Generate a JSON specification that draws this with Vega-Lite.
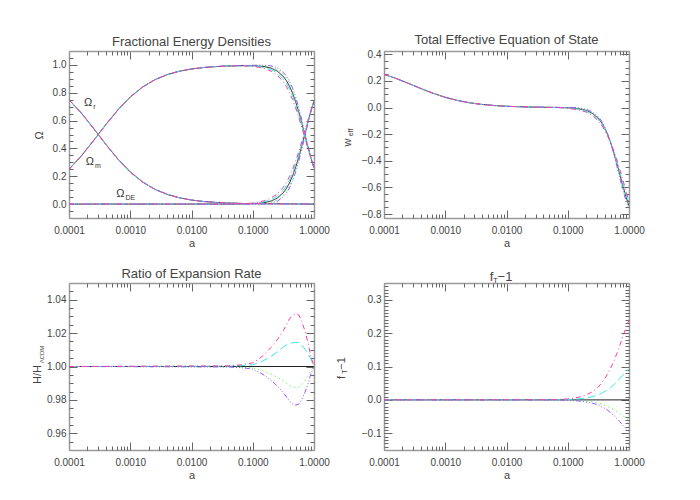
{
"$schema":"https://vega.github.io/schema/vega-lite/v6.json",
"padding":{"left":31,"top":34,"right":5,"bottom":5},
"background":"white",
"datasets":{
"om":[
{"m":"L","c":"r","a":0.0001,"v":0.75},{"m":"L","c":"r","a":0.00015849,"v":0.6543},{"m":"L","c":"r","a":0.00025119,"v":0.5443},{"m":"L","c":"r","a":0.00039811,"v":0.4297},{"m":"L","c":"r","a":0.00063096,"v":0.3222},{"m":"L","c":"r","a":0.001,"v":0.2308},{"m":"L","c":"r","a":0.0015849,"v":0.1592},{"m":"L","c":"r","a":0.0025119,"v":0.1067},{"m":"L","c":"r","a":0.0039811,"v":0.0701},{"m":"L","c":"r","a":0.0063096,"v":0.0454},{"m":"L","c":"r","a":0.01,"v":0.0291},{"m":"L","c":"r","a":0.015849,"v":0.0186},{"m":"L","c":"r","a":0.025119,"v":0.0118},{"m":"L","c":"r","a":0.039811,"v":0.0075},{"m":"L","c":"r","a":0.063096,"v":0.0047},{"m":"L","c":"r","a":0.079433,"v":0.0038},{"m":"L","c":"r","a":0.1,"v":0.003},{"m":"L","c":"r","a":1,"v":0.0001},
{"m":"L","c":"m","a":0.0001,"v":0.25},{"m":"L","c":"m","a":0.00015849,"v":0.3457},{"m":"L","c":"m","a":0.00025119,"v":0.4557},{"m":"L","c":"m","a":0.00039811,"v":0.5703},{"m":"L","c":"m","a":0.00063096,"v":0.6778},{"m":"L","c":"m","a":0.001,"v":0.7692},{"m":"L","c":"m","a":0.0015849,"v":0.8408},{"m":"L","c":"m","a":0.0025119,"v":0.8933},{"m":"L","c":"m","a":0.0039811,"v":0.9299},{"m":"L","c":"m","a":0.0063096,"v":0.9546},{"m":"L","c":"m","a":0.01,"v":0.9709},{"m":"L","c":"m","a":0.015849,"v":0.9814},{"m":"L","c":"m","a":0.025119,"v":0.9882},{"m":"L","c":"m","a":0.039811,"v":0.9923},
{"m":"L","c":"m","a":0.063096,"v":0.9946},{"m":"L","c":"m","a":0.079433,"v":0.9948},{"m":"L","c":"m","a":0.1,"v":0.9942},{"m":"L","c":"m","a":0.12589,"v":0.992},{"m":"L","c":"m","a":0.15849,"v":0.987},{"m":"L","c":"m","a":0.19953,"v":0.9765},{"m":"L","c":"m","a":0.25119,"v":0.9557},{"m":"L","c":"m","a":0.31623,"v":0.9166},{"m":"L","c":"m","a":0.35481,"v":0.8865},{"m":"L","c":"m","a":0.39811,"v":0.8472},{"m":"L","c":"m","a":0.44668,"v":0.7972},{"m":"L","c":"m","a":0.50119,"v":0.7359},{"m":"L","c":"m","a":0.56234,"v":0.6637},{"m":"L","c":"m","a":0.63096,"v":0.583},{"m":"L","c":"m","a":0.70795,"v":0.4975},{"m":"L","c":"m","a":0.79433,"v":0.4121},{"m":"L","c":"m","a":0.89125,"v":0.3317},{"m":"L","c":"m","a":1,"v":0.26},
{"m":"L","c":"d","a":0.0001,"v":0},{"m":"L","c":"d","a":0.039811,"v":0.0002},{"m":"L","c":"d","a":0.063096,"v":0.0007},{"m":"L","c":"d","a":0.079433,"v":0.0014},{"m":"L","c":"d","a":0.1,"v":0.0028},{"m":"L","c":"d","a":0.12589,"v":0.0056},{"m":"L","c":"d","a":0.15849,"v":0.0112},{"m":"L","c":"d","a":0.19953,"v":0.0221},{"m":"L","c":"d","a":0.25119,"v":0.0431},{"m":"L","c":"d","a":0.31623,"v":0.0825},{"m":"L","c":"d","a":0.35481,"v":0.1127},{"m":"L","c":"d","a":0.39811,"v":0.1521},{"m":"L","c":"d","a":0.44668,"v":0.2022},{"m":"L","c":"d","a":0.50119,"v":0.2637},{"m":"L","c":"d","a":0.56234,"v":0.3359},{"m":"L","c":"d","a":0.63096,"v":0.4168},{"m":"L","c":"d","a":0.70795,"v":0.5023},{"m":"L","c":"d","a":0.79433,"v":0.5878},{"m":"L","c":"d","a":0.89125,"v":0.6682},{"m":"L","c":"d","a":1,"v":0.7399},

{"m":"G","c":"r","a":0.0001,"v":0.75},{"m":"G","c":"r","a":0.00015849,"v":0.6543},{"m":"G","c":"r","a":0.00025119,"v":0.5443},{"m":"G","c":"r","a":0.00039811,"v":0.4297},{"m":"G","c":"r","a":0.00063096,"v":0.3222},{"m":"G","c":"r","a":0.001,"v":0.2308},{"m":"G","c":"r","a":0.0015849,"v":0.1592},{"m":"G","c":"r","a":0.0025119,"v":0.1067},{"m":"G","c":"r","a":0.0039811,"v":0.0701},{"m":"G","c":"r","a":0.0063096,"v":0.0454},{"m":"G","c":"r","a":0.01,"v":0.0291},{"m":"G","c":"r","a":0.015849,"v":0.0186},{"m":"G","c":"r","a":0.025119,"v":0.0118},{"m":"G","c":"r","a":0.039811,"v":0.0075},{"m":"G","c":"r","a":0.063096,"v":0.0047},{"m":"G","c":"r","a":0.079433,"v":0.0038},{"m":"G","c":"r","a":0.1,"v":0.003},{"m":"G","c":"r","a":1,"v":0.0001},
{"m":"G","c":"m","a":0.0001,"v":0.25},{"m":"G","c":"m","a":0.00015849,"v":0.3457},{"m":"G","c":"m","a":0.00025119,"v":0.4557},{"m":"G","c":"m","a":0.00039811,"v":0.5703},{"m":"G","c":"m","a":0.00063096,"v":0.6778},{"m":"G","c":"m","a":0.001,"v":0.7692},{"m":"G","c":"m","a":0.0015849,"v":0.8408},{"m":"G","c":"m","a":0.0025119,"v":0.8933},{"m":"G","c":"m","a":0.0039811,"v":0.9299},{"m":"G","c":"m","a":0.0063096,"v":0.9546},{"m":"G","c":"m","a":0.01,"v":0.9709},{"m":"G","c":"m","a":0.015849,"v":0.9814},{"m":"G","c":"m","a":0.025119,"v":0.9882},{"m":"G","c":"m","a":0.039811,"v":0.9923},
{"m":"G","c":"m","a":0.063096,"v":0.9954},{"m":"G","c":"m","a":0.079433,"v":0.996},{"m":"G","c":"m","a":0.1,"v":0.996},{"m":"G","c":"m","a":0.12589,"v":0.9956},{"m":"G","c":"m","a":0.15849,"v":0.993},{"m":"G","c":"m","a":0.19953,"v":0.9855},{"m":"G","c":"m","a":0.25119,"v":0.968},{"m":"G","c":"m","a":0.31623,"v":0.9326},{"m":"G","c":"m","a":0.35481,"v":0.9045},{"m":"G","c":"m","a":0.39811,"v":0.8669},{"m":"G","c":"m","a":0.44668,"v":0.817},{"m":"G","c":"m","a":0.50119,"v":0.7549},{"m":"G","c":"m","a":0.56234,"v":0.6805},{"m":"G","c":"m","a":0.63096,"v":0.5958},{"m":"G","c":"m","a":0.70795,"v":0.5062},{"m":"G","c":"m","a":0.79433,"v":0.4169},{"m":"G","c":"m","a":0.89125,"v":0.3333},{"m":"G","c":"m","a":1,"v":0.26},
{"m":"G","c":"d","a":0.0001,"v":0},{"m":"G","c":"d","a":0.039811,"v":0.0001},{"m":"G","c":"d","a":0.063096,"v":0.0},{"m":"G","c":"d","a":0.079433,"v":0.0002},{"m":"G","c":"d","a":0.1,"v":0.001},{"m":"G","c":"d","a":0.12589,"v":0.002},{"m":"G","c":"d","a":0.15849,"v":0.0052},{"m":"G","c":"d","a":0.19953,"v":0.0131},{"m":"G","c":"d","a":0.25119,"v":0.0308},{"m":"G","c":"d","a":0.31623,"v":0.0665},{"m":"G","c":"d","a":0.35481,"v":0.0947},{"m":"G","c":"d","a":0.39811,"v":0.1324},{"m":"G","c":"d","a":0.44668,"v":0.1824},{"m":"G","c":"d","a":0.50119,"v":0.2447},{"m":"G","c":"d","a":0.56234,"v":0.3191},{"m":"G","c":"d","a":0.63096,"v":0.404},{"m":"G","c":"d","a":0.70795,"v":0.4936},{"m":"G","c":"d","a":0.79433,"v":0.583},{"m":"G","c":"d","a":0.89125,"v":0.6666},{"m":"G","c":"d","a":1,"v":0.7399},

{"m":"C","c":"r","a":0.0001,"v":0.75},{"m":"C","c":"r","a":0.00015849,"v":0.6543},{"m":"C","c":"r","a":0.00025119,"v":0.5443},{"m":"C","c":"r","a":0.00039811,"v":0.4297},{"m":"C","c":"r","a":0.00063096,"v":0.3222},{"m":"C","c":"r","a":0.001,"v":0.2308},{"m":"C","c":"r","a":0.0015849,"v":0.1592},{"m":"C","c":"r","a":0.0025119,"v":0.1067},{"m":"C","c":"r","a":0.0039811,"v":0.0701},{"m":"C","c":"r","a":0.0063096,"v":0.0454},{"m":"C","c":"r","a":0.01,"v":0.0291},{"m":"C","c":"r","a":0.015849,"v":0.0186},{"m":"C","c":"r","a":0.025119,"v":0.0118},{"m":"C","c":"r","a":0.039811,"v":0.0075},{"m":"C","c":"r","a":0.063096,"v":0.0047},{"m":"C","c":"r","a":0.079433,"v":0.0038},{"m":"C","c":"r","a":0.1,"v":0.003},{"m":"C","c":"r","a":1,"v":0.0001},
{"m":"C","c":"m","a":0.0001,"v":0.25},{"m":"C","c":"m","a":0.00015849,"v":0.3457},{"m":"C","c":"m","a":0.00025119,"v":0.4557},{"m":"C","c":"m","a":0.00039811,"v":0.5703},{"m":"C","c":"m","a":0.00063096,"v":0.6778},{"m":"C","c":"m","a":0.001,"v":0.7692},{"m":"C","c":"m","a":0.0015849,"v":0.8408},{"m":"C","c":"m","a":0.0025119,"v":0.8933},{"m":"C","c":"m","a":0.0039811,"v":0.9299},{"m":"C","c":"m","a":0.0063096,"v":0.9546},{"m":"C","c":"m","a":0.01,"v":0.9709},{"m":"C","c":"m","a":0.015849,"v":0.9814},{"m":"C","c":"m","a":0.025119,"v":0.9882},{"m":"C","c":"m","a":0.039811,"v":0.9923},
{"m":"C","c":"m","a":0.063096,"v":0.9937},{"m":"C","c":"m","a":0.079433,"v":0.9934},{"m":"C","c":"m","a":0.1,"v":0.9922},{"m":"C","c":"m","a":0.12589,"v":0.9879},{"m":"C","c":"m","a":0.15849,"v":0.9802},{"m":"C","c":"m","a":0.19953,"v":0.9662},{"m":"C","c":"m","a":0.25119,"v":0.9418},{"m":"C","c":"m","a":0.31623,"v":0.8987},{"m":"C","c":"m","a":0.35481,"v":0.8665},{"m":"C","c":"m","a":0.39811,"v":0.8254},{"m":"C","c":"m","a":0.44668,"v":0.7753},{"m":"C","c":"m","a":0.50119,"v":0.715},{"m":"C","c":"m","a":0.56234,"v":0.6452},{"m":"C","c":"m","a":0.63096,"v":0.5688},{"m":"C","c":"m","a":0.70795,"v":0.4878},{"m":"C","c":"m","a":0.79433,"v":0.4067},{"m":"C","c":"m","a":0.89125,"v":0.3299},{"m":"C","c":"m","a":1,"v":0.26},
{"m":"C","c":"d","a":0.0001,"v":0},{"m":"C","c":"d","a":0.039811,"v":0.0002},{"m":"C","c":"d","a":0.063096,"v":0.0016},{"m":"C","c":"d","a":0.079433,"v":0.0028},{"m":"C","c":"d","a":0.1,"v":0.0048},{"m":"C","c":"d","a":0.12589,"v":0.0097},{"m":"C","c":"d","a":0.15849,"v":0.018},{"m":"C","c":"d","a":0.19953,"v":0.0324},{"m":"C","c":"d","a":0.25119,"v":0.057},{"m":"C","c":"d","a":0.31623,"v":0.1004},{"m":"C","c":"d","a":0.35481,"v":0.1327},{"m":"C","c":"d","a":0.39811,"v":0.1739},{"m":"C","c":"d","a":0.44668,"v":0.2241},{"m":"C","c":"d","a":0.50119,"v":0.2846},{"m":"C","c":"d","a":0.56234,"v":0.3544},{"m":"C","c":"d","a":0.63096,"v":0.431},{"m":"C","c":"d","a":0.70795,"v":0.512},{"m":"C","c":"d","a":0.79433,"v":0.5932},{"m":"C","c":"d","a":0.89125,"v":0.67},{"m":"C","c":"d","a":1,"v":0.7399},

{"m":"V","c":"r","a":0.0001,"v":0.75},{"m":"V","c":"r","a":0.00015849,"v":0.6543},{"m":"V","c":"r","a":0.00025119,"v":0.5443},{"m":"V","c":"r","a":0.00039811,"v":0.4297},{"m":"V","c":"r","a":0.00063096,"v":0.3222},{"m":"V","c":"r","a":0.001,"v":0.2308},{"m":"V","c":"r","a":0.0015849,"v":0.1592},{"m":"V","c":"r","a":0.0025119,"v":0.1067},{"m":"V","c":"r","a":0.0039811,"v":0.0701},{"m":"V","c":"r","a":0.0063096,"v":0.0454},{"m":"V","c":"r","a":0.01,"v":0.0291},{"m":"V","c":"r","a":0.015849,"v":0.0186},{"m":"V","c":"r","a":0.025119,"v":0.0118},{"m":"V","c":"r","a":0.039811,"v":0.0075},{"m":"V","c":"r","a":0.063096,"v":0.0047},{"m":"V","c":"r","a":0.079433,"v":0.0038},{"m":"V","c":"r","a":0.1,"v":0.003},{"m":"V","c":"r","a":1,"v":0.0001},
{"m":"V","c":"m","a":0.0001,"v":0.25},{"m":"V","c":"m","a":0.00015849,"v":0.3457},{"m":"V","c":"m","a":0.00025119,"v":0.4557},{"m":"V","c":"m","a":0.00039811,"v":0.5703},{"m":"V","c":"m","a":0.00063096,"v":0.6778},{"m":"V","c":"m","a":0.001,"v":0.7692},{"m":"V","c":"m","a":0.0015849,"v":0.8408},{"m":"V","c":"m","a":0.0025119,"v":0.8933},{"m":"V","c":"m","a":0.0039811,"v":0.9299},{"m":"V","c":"m","a":0.0063096,"v":0.9546},{"m":"V","c":"m","a":0.01,"v":0.9709},{"m":"V","c":"m","a":0.015849,"v":0.9814},{"m":"V","c":"m","a":0.025119,"v":0.9882},{"m":"V","c":"m","a":0.039811,"v":0.9923},
{"m":"V","c":"m","a":0.063096,"v":0.9961},{"m":"V","c":"m","a":0.079433,"v":0.997},{"m":"V","c":"m","a":0.1,"v":0.9974},{"m":"V","c":"m","a":0.12589,"v":0.998},{"m":"V","c":"m","a":0.15849,"v":0.9979},{"m":"V","c":"m","a":0.19953,"v":0.9931},{"m":"V","c":"m","a":0.25119,"v":0.9784},{"m":"V","c":"m","a":0.31623,"v":0.9461},{"m":"V","c":"m","a":0.35481,"v":0.9197},{"m":"V","c":"m","a":0.39811,"v":0.8835},{"m":"V","c":"m","a":0.44668,"v":0.8339},{"m":"V","c":"m","a":0.50119,"v":0.771},{"m":"V","c":"m","a":0.56234,"v":0.6948},{"m":"V","c":"m","a":0.63096,"v":0.6067},{"m":"V","c":"m","a":0.70795,"v":0.5135},{"m":"V","c":"m","a":0.79433,"v":0.421},{"m":"V","c":"m","a":0.89125,"v":0.3346},{"m":"V","c":"m","a":1,"v":0.26},
{"m":"V","c":"d","a":0.0001,"v":0},{"m":"V","c":"d","a":0.039811,"v":0},{"m":"V","c":"d","a":0.063096,"v":0},{"m":"V","c":"d","a":0.079433,"v":0},{"m":"V","c":"d","a":0.1,"v":0},{"m":"V","c":"d","a":0.12589,"v":0},{"m":"V","c":"d","a":0.15849,"v":0.0003},{"m":"V","c":"d","a":0.19953,"v":0.0055},{"m":"V","c":"d","a":0.25119,"v":0.0204},{"m":"V","c":"d","a":0.31623,"v":0.053},{"m":"V","c":"d","a":0.35481,"v":0.0795},{"m":"V","c":"d","a":0.39811,"v":0.1158},{"m":"V","c":"d","a":0.44668,"v":0.1655},{"m":"V","c":"d","a":0.50119,"v":0.2286},{"m":"V","c":"d","a":0.56234,"v":0.3048},{"m":"V","c":"d","a":0.63096,"v":0.3931},{"m":"V","c":"d","a":0.70795,"v":0.4863},{"m":"V","c":"d","a":0.79433,"v":0.5789},{"m":"V","c":"d","a":0.89125,"v":0.6653},{"m":"V","c":"d","a":1,"v":0.7399},

{"m":"P","c":"r","a":0.0001,"v":0.75},{"m":"P","c":"r","a":0.00015849,"v":0.6543},{"m":"P","c":"r","a":0.00025119,"v":0.5443},{"m":"P","c":"r","a":0.00039811,"v":0.4297},{"m":"P","c":"r","a":0.00063096,"v":0.3222},{"m":"P","c":"r","a":0.001,"v":0.2308},{"m":"P","c":"r","a":0.0015849,"v":0.1592},{"m":"P","c":"r","a":0.0025119,"v":0.1067},{"m":"P","c":"r","a":0.0039811,"v":0.0701},{"m":"P","c":"r","a":0.0063096,"v":0.0454},{"m":"P","c":"r","a":0.01,"v":0.0291},{"m":"P","c":"r","a":0.015849,"v":0.0186},{"m":"P","c":"r","a":0.025119,"v":0.0118},{"m":"P","c":"r","a":0.039811,"v":0.0075},{"m":"P","c":"r","a":0.063096,"v":0.0047},{"m":"P","c":"r","a":0.079433,"v":0.0038},{"m":"P","c":"r","a":0.1,"v":0.003},{"m":"P","c":"r","a":1,"v":0.0001},
{"m":"P","c":"m","a":0.0001,"v":0.25},{"m":"P","c":"m","a":0.00015849,"v":0.3457},{"m":"P","c":"m","a":0.00025119,"v":0.4557},{"m":"P","c":"m","a":0.00039811,"v":0.5703},{"m":"P","c":"m","a":0.00063096,"v":0.6778},{"m":"P","c":"m","a":0.001,"v":0.7692},{"m":"P","c":"m","a":0.0015849,"v":0.8408},{"m":"P","c":"m","a":0.0025119,"v":0.8933},{"m":"P","c":"m","a":0.0039811,"v":0.9299},{"m":"P","c":"m","a":0.0063096,"v":0.9546},{"m":"P","c":"m","a":0.01,"v":0.9709},{"m":"P","c":"m","a":0.015849,"v":0.9814},{"m":"P","c":"m","a":0.025119,"v":0.9882},{"m":"P","c":"m","a":0.039811,"v":0.9923},
{"m":"P","c":"m","a":0.063096,"v":0.9926},{"m":"P","c":"m","a":0.079433,"v":0.9918},{"m":"P","c":"m","a":0.1,"v":0.9898},{"m":"P","c":"m","a":0.12589,"v":0.9831},{"m":"P","c":"m","a":0.15849,"v":0.9724},{"m":"P","c":"m","a":0.19953,"v":0.9544},{"m":"P","c":"m","a":0.25119,"v":0.9259},{"m":"P","c":"m","a":0.31623,"v":0.8785},{"m":"P","c":"m","a":0.35481,"v":0.8438},{"m":"P","c":"m","a":0.39811,"v":0.801},{"m":"P","c":"m","a":0.44668,"v":0.7508},{"m":"P","c":"m","a":0.50119,"v":0.6916},{"m":"P","c":"m","a":0.56234,"v":0.6245},{"m":"P","c":"m","a":0.63096,"v":0.5528},{"m":"P","c":"m","a":0.70795,"v":0.4768},{"m":"P","c":"m","a":0.79433,"v":0.4004},{"m":"P","c":"m","a":0.89125,"v":0.3278},{"m":"P","c":"m","a":1,"v":0.26},
{"m":"P","c":"d","a":0.0001,"v":0},{"m":"P","c":"d","a":0.039811,"v":0.0002},{"m":"P","c":"d","a":0.063096,"v":0.0027},{"m":"P","c":"d","a":0.079433,"v":0.0044},{"m":"P","c":"d","a":0.1,"v":0.0072},{"m":"P","c":"d","a":0.12589,"v":0.0145},{"m":"P","c":"d","a":0.15849,"v":0.0258},{"m":"P","c":"d","a":0.19953,"v":0.0442},{"m":"P","c":"d","a":0.25119,"v":0.0729},{"m":"P","c":"d","a":0.31623,"v":0.1206},{"m":"P","c":"d","a":0.35481,"v":0.1554},{"m":"P","c":"d","a":0.39811,"v":0.1983},{"m":"P","c":"d","a":0.44668,"v":0.2486},{"m":"P","c":"d","a":0.50119,"v":0.308},{"m":"P","c":"d","a":0.56234,"v":0.3751},{"m":"P","c":"d","a":0.63096,"v":0.447},{"m":"P","c":"d","a":0.70795,"v":0.523},{"m":"P","c":"d","a":0.79433,"v":0.5995},{"m":"P","c":"d","a":0.89125,"v":0.6721},{"m":"P","c":"d","a":1,"v":0.7399}
],
"w":[
{"m":"L","a":0.0001,"v":0.25},{"m":"L","a":0.00015849,"v":0.2181},{"m":"L","a":0.00025119,"v":0.1814},{"m":"L","a":0.00039811,"v":0.1432},{"m":"L","a":0.00063096,"v":0.1074},{"m":"L","a":0.001,"v":0.0769},{"m":"L","a":0.0015849,"v":0.0531},{"m":"L","a":0.0025119,"v":0.0356},{"m":"L","a":0.0039811,"v":0.0234},{"m":"L","a":0.0063096,"v":0.0151},{"m":"L","a":0.01,"v":0.0097},{"m":"L","a":0.015849,"v":0.0062},{"m":"L","a":0.025119,"v":0.0039},
{"m":"L","a":0.039811,"v":0.0023},{"m":"L","a":0.063096,"v":0.0009},{"m":"L","a":0.079433,"v":-0.0002},{"m":"L","a":0.1,"v":-0.0018},{"m":"L","a":0.12589,"v":-0.0048},{"m":"L","a":0.15849,"v":-0.0106},{"m":"L","a":0.19953,"v":-0.0216},{"m":"L","a":0.25119,"v":-0.0427},{"m":"L","a":0.31623,"v":-0.0822},{"m":"L","a":0.35481,"v":-0.1124},{"m":"L","a":0.39811,"v":-0.1519},{"m":"L","a":0.44668,"v":-0.202},{"m":"L","a":0.50119,"v":-0.2635},{"m":"L","a":0.56234,"v":-0.3358},{"m":"L","a":0.63096,"v":-0.4167},{"m":"L","a":0.70795,"v":-0.5023},{"m":"L","a":0.79433,"v":-0.5877},{"m":"L","a":0.89125,"v":-0.6682},{"m":"L","a":1,"v":-0.7399},
{"m":"G","a":0.0001,"v":0.25},{"m":"G","a":0.00015849,"v":0.2181},{"m":"G","a":0.00025119,"v":0.1814},{"m":"G","a":0.00039811,"v":0.1432},{"m":"G","a":0.00063096,"v":0.1074},{"m":"G","a":0.001,"v":0.0769},{"m":"G","a":0.0015849,"v":0.0531},{"m":"G","a":0.0025119,"v":0.0356},{"m":"G","a":0.0039811,"v":0.0234},{"m":"G","a":0.0063096,"v":0.0151},{"m":"G","a":0.01,"v":0.0097},{"m":"G","a":0.015849,"v":0.0062},{"m":"G","a":0.025119,"v":0.0039},
{"m":"G","a":0.039811,"v":0.0026},{"m":"G","a":0.063096,"v":0.0013},{"m":"G","a":0.079433,"v":0.0005},{"m":"G","a":0.1,"v":-0.0001},{"m":"G","a":0.12589,"v":-0.0017},{"m":"G","a":0.15849,"v":-0.0066},{"m":"G","a":0.19953,"v":-0.0167},{"m":"G","a":0.25119,"v":-0.0369},{"m":"G","a":0.31623,"v":-0.075},{"m":"G","a":0.35481,"v":-0.1052},{"m":"G","a":0.39811,"v":-0.1459},{"m":"G","a":0.44668,"v":-0.1984},{"m":"G","a":0.50119,"v":-0.2629},{"m":"G","a":0.56234,"v":-0.3411},{"m":"G","a":0.63096,"v":-0.4277},{"m":"G","a":0.70795,"v":-0.5168},{"m":"G","a":0.79433,"v":-0.6057},{"m":"G","a":0.89125,"v":-0.685},{"m":"G","a":1,"v":-0.7538},
{"m":"C","a":0.0001,"v":0.25},{"m":"C","a":0.00015849,"v":0.2181},{"m":"C","a":0.00025119,"v":0.1814},{"m":"C","a":0.00039811,"v":0.1432},{"m":"C","a":0.00063096,"v":0.1074},{"m":"C","a":0.001,"v":0.0769},{"m":"C","a":0.0015849,"v":0.0531},{"m":"C","a":0.0025119,"v":0.0356},{"m":"C","a":0.0039811,"v":0.0234},{"m":"C","a":0.0063096,"v":0.0151},{"m":"C","a":0.01,"v":0.0097},{"m":"C","a":0.015849,"v":0.0062},{"m":"C","a":0.025119,"v":0.0039},
{"m":"C","a":0.039811,"v":0.002},{"m":"C","a":0.063096,"v":0.0004},{"m":"C","a":0.079433,"v":-0.001},{"m":"C","a":0.1,"v":-0.0038},{"m":"C","a":0.12589,"v":-0.0083},{"m":"C","a":0.15849,"v":-0.0152},{"m":"C","a":0.19953,"v":-0.0273},{"m":"C","a":0.25119,"v":-0.0494},{"m":"C","a":0.31623,"v":-0.0905},{"m":"C","a":0.35481,"v":-0.1207},{"m":"C","a":0.39811,"v":-0.1588},{"m":"C","a":0.44668,"v":-0.2061},{"m":"C","a":0.50119,"v":-0.2641},{"m":"C","a":0.56234,"v":-0.3297},{"m":"C","a":0.63096,"v":-0.404},{"m":"C","a":0.70795,"v":-0.4856},{"m":"C","a":0.79433,"v":-0.567},{"m":"C","a":0.89125,"v":-0.6489},{"m":"C","a":1,"v":-0.7239},
{"m":"V","a":0.0001,"v":0.25},{"m":"V","a":0.00015849,"v":0.2181},{"m":"V","a":0.00025119,"v":0.1814},{"m":"V","a":0.00039811,"v":0.1432},{"m":"V","a":0.00063096,"v":0.1074},{"m":"V","a":0.001,"v":0.0769},{"m":"V","a":0.0015849,"v":0.0531},{"m":"V","a":0.0025119,"v":0.0356},{"m":"V","a":0.0039811,"v":0.0234},{"m":"V","a":0.0063096,"v":0.0151},{"m":"V","a":0.01,"v":0.0097},{"m":"V","a":0.015849,"v":0.0062},{"m":"V","a":0.025119,"v":0.0039},
{"m":"V","a":0.039811,"v":0.0028},{"m":"V","a":0.063096,"v":0.0017},{"m":"V","a":0.079433,"v":0.001},{"m":"V","a":0.1,"v":0.0013},{"m":"V","a":0.12589,"v":0.0008},{"m":"V","a":0.15849,"v":-0.0032},{"m":"V","a":0.19953,"v":-0.0126},{"m":"V","a":0.25119,"v":-0.0321},{"m":"V","a":0.31623,"v":-0.0691},{"m":"V","a":0.35481,"v":-0.0993},{"m":"V","a":0.39811,"v":-0.1409},{"m":"V","a":0.44668,"v":-0.1954},{"m":"V","a":0.50119,"v":-0.2625},{"m":"V","a":0.56234,"v":-0.3455},{"m":"V","a":0.63096,"v":-0.4368},{"m":"V","a":0.70795,"v":-0.5287},{"m":"V","a":0.79433,"v":-0.6205},{"m":"V","a":0.89125,"v":-0.6989},{"m":"V","a":1,"v":-0.7652},
{"m":"P","a":0.0001,"v":0.25},{"m":"P","a":0.00015849,"v":0.2181},{"m":"P","a":0.00025119,"v":0.1814},{"m":"P","a":0.00039811,"v":0.1432},{"m":"P","a":0.00063096,"v":0.1074},{"m":"P","a":0.001,"v":0.0769},{"m":"P","a":0.0015849,"v":0.0531},{"m":"P","a":0.0025119,"v":0.0356},{"m":"P","a":0.0039811,"v":0.0234},{"m":"P","a":0.0063096,"v":0.0151},{"m":"P","a":0.01,"v":0.0097},{"m":"P","a":0.015849,"v":0.0062},{"m":"P","a":0.025119,"v":0.0039},
{"m":"P","a":0.039811,"v":0.0016},{"m":"P","a":0.063096,"v":-0.0002},{"m":"P","a":0.079433,"v":-0.0019},{"m":"P","a":0.1,"v":-0.0061},{"m":"P","a":0.12589,"v":-0.0125},{"m":"P","a":0.15849,"v":-0.0207},{"m":"P","a":0.19953,"v":-0.0339},{"m":"P","a":0.25119,"v":-0.0572},{"m":"P","a":0.31623,"v":-0.1002},{"m":"P","a":0.35481,"v":-0.1304},{"m":"P","a":0.39811,"v":-0.1669},{"m":"P","a":0.44668,"v":-0.211},{"m":"P","a":0.50119,"v":-0.2649},{"m":"P","a":0.56234,"v":-0.3225},{"m":"P","a":0.63096,"v":-0.3892},{"m":"P","a":0.70795,"v":-0.4661},{"m":"P","a":0.79433,"v":-0.5428},{"m":"P","a":0.89125,"v":-0.6262},{"m":"P","a":1,"v":-0.7052}
],
"h":[
{"m":"L","a":0.0001,"v":1},{"m":"L","a":1,"v":1},
{"m":"G","a":0.0001,"v":1},{"m":"G","a":0.039811,"v":0.9998},{"m":"G","a":0.063096,"v":0.9996},{"m":"G","a":0.079433,"v":0.9994},{"m":"G","a":0.1,"v":0.9991},{"m":"G","a":0.12589,"v":0.9982},{"m":"G","a":0.15849,"v":0.997},{"m":"G","a":0.19953,"v":0.9954},{"m":"G","a":0.25119,"v":0.9936},{"m":"G","a":0.31623,"v":0.9914},{"m":"G","a":0.35481,"v":0.99},{"m":"G","a":0.39811,"v":0.9886},{"m":"G","a":0.44668,"v":0.9878},{"m":"G","a":0.50119,"v":0.9874},{"m":"G","a":0.56234,"v":0.9876},{"m":"G","a":0.63096,"v":0.9892},{"m":"G","a":0.70795,"v":0.9914},{"m":"G","a":0.79433,"v":0.9942},{"m":"G","a":0.89125,"v":0.9976},{"m":"G","a":1,"v":1},
{"m":"C","a":0.0001,"v":1},{"m":"C","a":0.039811,"v":1.0002},{"m":"C","a":0.063096,"v":1.0005},{"m":"C","a":0.079433,"v":1.0007},{"m":"C","a":0.1,"v":1.001},{"m":"C","a":0.12589,"v":1.0021},{"m":"C","a":0.15849,"v":1.004},{"m":"C","a":0.19953,"v":1.006},{"m":"C","a":0.25119,"v":1.0088},{"m":"C","a":0.31623,"v":1.0117},{"m":"C","a":0.35481,"v":1.0128},{"m":"C","a":0.39811,"v":1.0136},{"m":"C","a":0.44668,"v":1.0142},{"m":"C","a":0.50119,"v":1.0145},{"m":"C","a":0.56234,"v":1.0143},{"m":"C","a":0.63096,"v":1.0128},{"m":"C","a":0.70795,"v":1.0105},{"m":"C","a":0.79433,"v":1.0078},{"m":"C","a":0.89125,"v":1.0045},{"m":"C","a":1,"v":1},
{"m":"V","a":0.0001,"v":1},{"m":"V","a":0.039811,"v":0.9997},{"m":"V","a":0.063096,"v":0.9993},{"m":"V","a":0.079433,"v":0.9989},{"m":"V","a":0.1,"v":0.9984},{"m":"V","a":0.12589,"v":0.9967},{"m":"V","a":0.15849,"v":0.9945},{"m":"V","a":0.19953,"v":0.9916},{"m":"V","a":0.25119,"v":0.9883},{"m":"V","a":0.31623,"v":0.9843},{"m":"V","a":0.35481,"v":0.9818},{"m":"V","a":0.39811,"v":0.9792},{"m":"V","a":0.44668,"v":0.9777},{"m":"V","a":0.50119,"v":0.9769},{"m":"V","a":0.56234,"v":0.9774},{"m":"V","a":0.63096,"v":0.9803},{"m":"V","a":0.70795,"v":0.9843},{"m":"V","a":0.79433,"v":0.9894},{"m":"V","a":0.89125,"v":0.9956},{"m":"V","a":1,"v":1},
{"m":"P","a":0.0001,"v":1},{"m":"P","a":0.039811,"v":1.0004},{"m":"P","a":0.063096,"v":1.001},{"m":"P","a":0.079433,"v":1.0015},{"m":"P","a":0.1,"v":1.0022},{"m":"P","a":0.12589,"v":1.0045},{"m":"P","a":0.15849,"v":1.0075},{"m":"P","a":0.19953,"v":1.0115},{"m":"P","a":0.25119,"v":1.016},{"m":"P","a":0.31623,"v":1.0215},{"m":"P","a":0.35481,"v":1.025},{"m":"P","a":0.39811,"v":1.0285},{"m":"P","a":0.44668,"v":1.0305},{"m":"P","a":0.50119,"v":1.0316},{"m":"P","a":0.56234,"v":1.031},{"m":"P","a":0.63096,"v":1.027},{"m":"P","a":0.70795,"v":1.0215},{"m":"P","a":0.79433,"v":1.0145},{"m":"P","a":0.89125,"v":1.006},{"m":"P","a":1,"v":1}
],
"f":[
{"m":"L","a":0.0001,"v":0},{"m":"L","a":1,"v":0},
{"m":"G","a":0.0001,"v":0},{"m":"G","a":0.039811,"v":-0.0001},{"m":"G","a":0.063096,"v":-0.0003},{"m":"G","a":0.079433,"v":-0.0005},{"m":"G","a":0.1,"v":-0.0008},{"m":"G","a":0.12589,"v":-0.0013},{"m":"G","a":0.15849,"v":-0.0023},{"m":"G","a":0.19953,"v":-0.0038},{"m":"G","a":0.25119,"v":-0.006},{"m":"G","a":0.31623,"v":-0.0098},{"m":"G","a":0.35481,"v":-0.0125},{"m":"G","a":0.39811,"v":-0.016},{"m":"G","a":0.44668,"v":-0.019},{"m":"G","a":0.50119,"v":-0.024},{"m":"G","a":0.56234,"v":-0.029},{"m":"G","a":0.63096,"v":-0.0345},{"m":"G","a":0.70795,"v":-0.041},{"m":"G","a":0.79433,"v":-0.0475},{"m":"G","a":0.89125,"v":-0.054},{"m":"G","a":1,"v":-0.06},
{"m":"C","a":0.0001,"v":0},{"m":"C","a":0.039811,"v":0.0002},{"m":"C","a":0.063096,"v":0.0004},{"m":"C","a":0.079433,"v":0.0008},{"m":"C","a":0.1,"v":0.0012},{"m":"C","a":0.12589,"v":0.002},{"m":"C","a":0.15849,"v":0.0035},{"m":"C","a":0.19953,"v":0.0059},{"m":"C","a":0.25119,"v":0.0094},{"m":"C","a":0.31623,"v":0.0152},{"m":"C","a":0.35481,"v":0.0195},{"m":"C","a":0.39811,"v":0.0246},{"m":"C","a":0.44668,"v":0.03},{"m":"C","a":0.50119,"v":0.037},{"m":"C","a":0.56234,"v":0.045},{"m":"C","a":0.63096,"v":0.054},{"m":"C","a":0.70795,"v":0.064},{"m":"C","a":0.79433,"v":0.074},{"m":"C","a":0.89125,"v":0.084},{"m":"C","a":1,"v":0.094},
{"m":"V","a":0.0001,"v":0},{"m":"V","a":0.039811,"v":-0.0002},{"m":"V","a":0.063096,"v":-0.0004},{"m":"V","a":0.079433,"v":-0.0008},{"m":"V","a":0.1,"v":-0.0012},{"m":"V","a":0.12589,"v":-0.002},{"m":"V","a":0.15849,"v":-0.0036},{"m":"V","a":0.19953,"v":-0.006},{"m":"V","a":0.25119,"v":-0.0096},{"m":"V","a":0.31623,"v":-0.0156},{"m":"V","a":0.35481,"v":-0.02},{"m":"V","a":0.39811,"v":-0.025},{"m":"V","a":0.44668,"v":-0.031},{"m":"V","a":0.50119,"v":-0.038},{"m":"V","a":0.56234,"v":-0.046},{"m":"V","a":0.63096,"v":-0.055},{"m":"V","a":0.70795,"v":-0.065},{"m":"V","a":0.79433,"v":-0.076},{"m":"V","a":0.89125,"v":-0.086},{"m":"V","a":1,"v":-0.096},
{"m":"P","a":0.0001,"v":0},{"m":"P","a":0.039811,"v":0.0004},{"m":"P","a":0.063096,"v":0.001},{"m":"P","a":0.079433,"v":0.002},{"m":"P","a":0.1,"v":0.003},{"m":"P","a":0.12589,"v":0.005},{"m":"P","a":0.15849,"v":0.009},{"m":"P","a":0.19953,"v":0.015},{"m":"P","a":0.25119,"v":0.024},{"m":"P","a":0.31623,"v":0.039},{"m":"P","a":0.35481,"v":0.05},{"m":"P","a":0.39811,"v":0.063},{"m":"P","a":0.44668,"v":0.077},{"m":"P","a":0.50119,"v":0.095},{"m":"P","a":0.56234,"v":0.115},{"m":"P","a":0.63096,"v":0.138},{"m":"P","a":0.70795,"v":0.163},{"m":"P","a":0.79433,"v":0.19},{"m":"P","a":0.89125,"v":0.215},{"m":"P","a":1,"v":0.24}
],
"lab":[{"a":0.00024,"v":0.725,"s":"r"},{"a":0.000256,"v":0.304,"s":"m"},{"a":0.000805,"v":0.069,"s":"DE"}]
},
"columns":2,
"spacing":{"row":65,"column":70},
"bounds":"flush",
"concat":[
{"width":245,"height":167,"title":{"text":"Fractional Energy Densities"},
"layer":[
{"data":{"name":"om"},"mark":{"type":"line","clip":true,"strokeWidth":1},
"encoding":{
"x":{"field":"a","type":"quantitative","scale":{"type":"log","domain":[0.0001,1],"nice":false},"axis":{"orient":"bottom","values":[0.0001,0.001,0.01,0.1,1],"format":".4f","ticks":false,"labelPadding":7,"title":"a","titlePadding":2}},
"y":{"field":"v","type":"quantitative","scale":{"domain":[-0.1,1.1],"nice":false,"zero":false},"axis":{"orient":"left","values":[0,0.2,0.4,0.6,0.8,1],"format":".1f","ticks":false,"labelPadding":3,"title":"Ω","titleX":-30,"titleY":84,"titleAlign":"center","titleBaseline":"middle","titleAngle":-90}},
"color":{"field":"m","type":"nominal","scale":{"domain":["L","P","C","G","V"],"range":["#222222","#FF3D9E","#33E8F2","#5EFF5E","#9B55FF"]},"legend":null},
"strokeDash":{"field":"m","type":"nominal","scale":{"domain":["L","P","C","G","V"],"range":[[1,0],[5,3,1,3],[8,4],[1.5,3],[5,2,1,2,1,2,1,2]]},"legend":null},
"detail":{"field":"c","type":"nominal"}}},
{"data":{"name":"lab"},"mark":{"type":"text","text":"Ω","align":"right","baseline":"middle","fontSize":11,"color":"#333"},
"encoding":{"x":{"field":"a","type":"quantitative","axis":null},"y":{"field":"v","type":"quantitative","axis":null}}},
{"data":{"name":"lab"},"mark":{"type":"text","align":"left","baseline":"middle","fontSize":7,"dx":1,"dy":4,"color":"#333"},
"encoding":{"x":{"field":"a","type":"quantitative","axis":null},"y":{"field":"v","type":"quantitative","axis":null},"text":{"field":"s"}}},
{"data":{"values":[{"a":0.01,"v":0.5}]},"mark":{"type":"point","opacity":0,"size":0},
"encoding":{"x":{"field":"a","type":"quantitative","axis":{"orient":"bottom","values":[0.0001,0.001,0.01,0.1,1],"labels":false,"domain":false,"tickSize":-8,"title":null}},
"y":{"field":"v","type":"quantitative","axis":{"orient":"left","values":[0,0.2,0.4,0.6,0.8,1],"labels":false,"domain":false,"tickSize":-8,"title":null}}}},
{"data":{"values":[{"a":0.01,"v":0.5}]},"mark":{"type":"point","opacity":0,"size":0},
"encoding":{"x":{"field":"a","type":"quantitative","axis":{"orient":"bottom","values":[0.0002,0.0003,0.0004,0.0005,0.0006,0.0007,0.0008,0.0009,0.002,0.003,0.004,0.005,0.006,0.007,0.008,0.009,0.02,0.03,0.04,0.05,0.06,0.07,0.08,0.09,0.2,0.3,0.4,0.5,0.6,0.7,0.8,0.9],"labels":false,"domain":false,"tickSize":-4,"title":null}},
"y":{"field":"v","type":"quantitative","axis":{"orient":"left","values":[-0.05,0.05,0.1,0.15,0.25,0.3,0.35,0.45,0.5,0.55,0.65,0.7,0.75,0.85,0.9,0.95,1.05],"labels":false,"domain":false,"tickSize":-4,"title":null}}}},
{"data":{"values":[{"a":0.01,"v":0.5}]},"mark":{"type":"point","opacity":0,"size":0},
"encoding":{"x":{"field":"a","type":"quantitative","axis":{"orient":"top","values":[0.0001,0.001,0.01,0.1,1],"labels":false,"domain":true,"tickSize":-8,"title":null}},
"y":{"field":"v","type":"quantitative","axis":{"orient":"right","values":[0,0.2,0.4,0.6,0.8,1],"labels":false,"domain":true,"tickSize":-8,"title":null}}}},
{"data":{"values":[{"a":0.01,"v":0.5}]},"mark":{"type":"point","opacity":0,"size":0},
"encoding":{"x":{"field":"a","type":"quantitative","axis":{"orient":"top","values":[0.0002,0.0003,0.0004,0.0005,0.0006,0.0007,0.0008,0.0009,0.002,0.003,0.004,0.005,0.006,0.007,0.008,0.009,0.02,0.03,0.04,0.05,0.06,0.07,0.08,0.09,0.2,0.3,0.4,0.5,0.6,0.7,0.8,0.9],"labels":false,"domain":false,"tickSize":-4,"title":null}},
"y":{"field":"v","type":"quantitative","axis":{"orient":"right","values":[-0.05,0.05,0.1,0.15,0.25,0.3,0.35,0.45,0.5,0.55,0.65,0.7,0.75,0.85,0.9,0.95,1.05],"labels":false,"domain":false,"tickSize":-4,"title":null}}}}
],
"resolve":{"axis":{"x":"independent","y":"independent"}}},

{"width":245,"height":167,"title":{"text":"Total Effective Equation of State"},
"layer":[
{"data":{"name":"w"},"mark":{"type":"line","clip":true,"strokeWidth":1},
"encoding":{
"x":{"field":"a","type":"quantitative","scale":{"type":"log","domain":[0.0001,1],"nice":false},"axis":{"orient":"bottom","values":[0.0001,0.001,0.01,0.1,1],"format":".4f","ticks":false,"labelPadding":7,"title":"a","titlePadding":2}},
"y":{"field":"v","type":"quantitative","scale":{"domain":[-0.83,0.425],"nice":false,"zero":false},"axis":{"orient":"left","values":[-0.8,-0.6,-0.4,-0.2,0,0.2,0.4],"format":".1f","ticks":false,"labelPadding":3,"title":"w","titleX":-37,"titleY":91,"titleAlign":"center","titleBaseline":"middle","titleAngle":-90}},
"color":{"field":"m","type":"nominal","scale":{"domain":["L","P","C","G","V"],"range":["#222222","#FF3D9E","#33E8F2","#5EFF5E","#9B55FF"]},"legend":null},
"strokeDash":{"field":"m","type":"nominal","scale":{"domain":["L","P","C","G","V"],"range":[[1,0],[5,3,1,3],[8,4],[1.5,3],[5,2,1,2,1,2,1,2]]},"legend":null}}},
{"data":{"values":[{"a":0.01,"v":0}]},"mark":{"type":"point","opacity":0,"size":0},
"encoding":{"x":{"field":"a","type":"quantitative","axis":{"orient":"bottom","values":[0.0001,0.001,0.01,0.1,1],"labels":false,"domain":false,"tickSize":-8,"title":null}},
"y":{"field":"v","type":"quantitative","axis":{"orient":"left","values":[-0.8,-0.6,-0.4,-0.2,0,0.2,0.4],"labels":false,"domain":false,"tickSize":-8,"title":"eff","titleFontSize":7,"titleX":-34,"titleY":81,"titleAlign":"center","titleBaseline":"middle","titleAngle":-90}}}},
{"data":{"values":[{"a":0.01,"v":0}]},"mark":{"type":"point","opacity":0,"size":0},
"encoding":{"x":{"field":"a","type":"quantitative","axis":{"orient":"bottom","values":[0.0002,0.0003,0.0004,0.0005,0.0006,0.0007,0.0008,0.0009,0.002,0.003,0.004,0.005,0.006,0.007,0.008,0.009,0.02,0.03,0.04,0.05,0.06,0.07,0.08,0.09,0.2,0.3,0.4,0.5,0.6,0.7,0.8,0.9],"labels":false,"domain":false,"tickSize":-4,"title":null}},
"y":{"field":"v","type":"quantitative","axis":{"orient":"left","values":[-0.75,-0.7,-0.65,-0.55,-0.5,-0.45,-0.35,-0.3,-0.25,-0.15,-0.1,-0.05,0.05,0.1,0.15,0.25,0.3,0.35],"labels":false,"domain":false,"tickSize":-4,"title":null}}}},
{"data":{"values":[{"a":0.01,"v":0}]},"mark":{"type":"point","opacity":0,"size":0},
"encoding":{"x":{"field":"a","type":"quantitative","axis":{"orient":"top","values":[0.0001,0.001,0.01,0.1,1],"labels":false,"domain":true,"tickSize":-8,"title":null}},
"y":{"field":"v","type":"quantitative","axis":{"orient":"right","values":[-0.8,-0.6,-0.4,-0.2,0,0.2,0.4],"labels":false,"domain":true,"tickSize":-8,"title":null}}}},
{"data":{"values":[{"a":0.01,"v":0}]},"mark":{"type":"point","opacity":0,"size":0},
"encoding":{"x":{"field":"a","type":"quantitative","axis":{"orient":"top","values":[0.0002,0.0003,0.0004,0.0005,0.0006,0.0007,0.0008,0.0009,0.002,0.003,0.004,0.005,0.006,0.007,0.008,0.009,0.02,0.03,0.04,0.05,0.06,0.07,0.08,0.09,0.2,0.3,0.4,0.5,0.6,0.7,0.8,0.9],"labels":false,"domain":false,"tickSize":-4,"title":null}},
"y":{"field":"v","type":"quantitative","axis":{"orient":"right","values":[-0.75,-0.7,-0.65,-0.55,-0.5,-0.45,-0.35,-0.3,-0.25,-0.15,-0.1,-0.05,0.05,0.1,0.15,0.25,0.3,0.35],"labels":false,"domain":false,"tickSize":-4,"title":null}}}}
],
"resolve":{"axis":{"x":"independent","y":"independent"}}},

{"width":245,"height":167,"title":{"text":"Ratio of Expansion Rate"},
"layer":[
{"data":{"name":"h"},"mark":{"type":"line","clip":true,"strokeWidth":1},
"encoding":{
"x":{"field":"a","type":"quantitative","scale":{"type":"log","domain":[0.0001,1],"nice":false},"axis":{"orient":"bottom","values":[0.0001,0.001,0.01,0.1,1],"format":".4f","ticks":false,"labelPadding":7,"title":"a","titlePadding":2}},
"y":{"field":"v","type":"quantitative","scale":{"domain":[0.95,1.05],"nice":false,"zero":false},"axis":{"orient":"left","values":[0.96,0.98,1,1.02,1.04],"format":".2f","ticks":false,"labelPadding":3,"title":"H/H","titleX":-32,"titleY":91,"titleAlign":"center","titleBaseline":"middle","titleAngle":-90}},
"color":{"field":"m","type":"nominal","scale":{"domain":["L","P","C","G","V"],"range":["#222222","#FF3D9E","#33E8F2","#5EFF5E","#9B55FF"]},"legend":null},
"strokeDash":{"field":"m","type":"nominal","scale":{"domain":["L","P","C","G","V"],"range":[[1,0],[5,3,1,3],[8,4],[1.5,3],[5,2,1,2,1,2,1,2]]},"legend":null}}},
{"data":{"values":[{"a":0.01,"v":1}]},"mark":{"type":"point","opacity":0,"size":0},
"encoding":{"x":{"field":"a","type":"quantitative","axis":{"orient":"bottom","values":[0.0001,0.001,0.01,0.1,1],"labels":false,"domain":false,"tickSize":-8,"title":null}},
"y":{"field":"v","type":"quantitative","axis":{"orient":"left","values":[0.96,0.98,1,1.02,1.04],"labels":false,"domain":false,"tickSize":-8,"title":"ΛCDM","titleFontSize":6,"titleX":-28,"titleY":71,"titleAlign":"center","titleBaseline":"middle","titleAngle":-90}}}},
{"data":{"values":[{"a":0.01,"v":1}]},"mark":{"type":"point","opacity":0,"size":0},
"encoding":{"x":{"field":"a","type":"quantitative","axis":{"orient":"bottom","values":[0.0002,0.0003,0.0004,0.0005,0.0006,0.0007,0.0008,0.0009,0.002,0.003,0.004,0.005,0.006,0.007,0.008,0.009,0.02,0.03,0.04,0.05,0.06,0.07,0.08,0.09,0.2,0.3,0.4,0.5,0.6,0.7,0.8,0.9],"labels":false,"domain":false,"tickSize":-4,"title":null}},
"y":{"field":"v","type":"quantitative","axis":{"orient":"left","values":[0.955,0.965,0.97,0.975,0.985,0.99,0.995,1.005,1.01,1.015,1.025,1.03,1.035,1.045],"labels":false,"domain":false,"tickSize":-4,"title":null}}}},
{"data":{"values":[{"a":0.01,"v":1}]},"mark":{"type":"point","opacity":0,"size":0},
"encoding":{"x":{"field":"a","type":"quantitative","axis":{"orient":"top","values":[0.0001,0.001,0.01,0.1,1],"labels":false,"domain":true,"tickSize":-8,"title":null}},
"y":{"field":"v","type":"quantitative","axis":{"orient":"right","values":[0.96,0.98,1,1.02,1.04],"labels":false,"domain":true,"tickSize":-8,"title":null}}}},
{"data":{"values":[{"a":0.01,"v":1}]},"mark":{"type":"point","opacity":0,"size":0},
"encoding":{"x":{"field":"a","type":"quantitative","axis":{"orient":"top","values":[0.0002,0.0003,0.0004,0.0005,0.0006,0.0007,0.0008,0.0009,0.002,0.003,0.004,0.005,0.006,0.007,0.008,0.009,0.02,0.03,0.04,0.05,0.06,0.07,0.08,0.09,0.2,0.3,0.4,0.5,0.6,0.7,0.8,0.9],"labels":false,"domain":false,"tickSize":-4,"title":null}},
"y":{"field":"v","type":"quantitative","axis":{"orient":"right","values":[0.955,0.965,0.97,0.975,0.985,0.99,0.995,1.005,1.01,1.015,1.025,1.03,1.035,1.045],"labels":false,"domain":false,"tickSize":-4,"title":null}}}}
],
"resolve":{"axis":{"x":"independent","y":"independent"}}},

{"width":245,"height":167,
"layer":[
{"data":{"name":"f"},"mark":{"type":"line","clip":true,"strokeWidth":1},
"encoding":{
"x":{"field":"a","type":"quantitative","scale":{"type":"log","domain":[0.0001,1],"nice":false},"axis":{"orient":"bottom","values":[0.0001,0.001,0.01,0.1,1],"format":".4f","ticks":false,"labelPadding":7,"title":"a","titlePadding":2}},
"y":{"field":"v","type":"quantitative","scale":{"domain":[-0.15,0.35],"nice":false,"zero":false},"axis":{"orient":"left","values":[-0.1,0,0.1,0.2,0.3],"format":".1f","ticks":false,"labelPadding":3,"title":"f","titleX":-43,"titleY":94,"titleAlign":"center","titleBaseline":"middle","titleAngle":-90}},
"color":{"field":"m","type":"nominal","scale":{"domain":["L","P","C","G","V"],"range":["#222222","#FF3D9E","#33E8F2","#5EFF5E","#9B55FF"]},"legend":null},
"strokeDash":{"field":"m","type":"nominal","scale":{"domain":["L","P","C","G","V"],"range":[[1,0],[5,3,1,3],[8,4],[1.5,3],[5,2,1,2,1,2,1,2]]},"legend":null}}},
{"data":{"values":[{"a":0.01,"v":0}]},"mark":{"type":"point","opacity":0,"size":0},
"encoding":{"x":{"field":"a","type":"quantitative","axis":{"orient":"bottom","values":[0.0001,0.001,0.01,0.1,1],"labels":false,"domain":false,"tickSize":-8,"title":"−1","titleFontSize":13,"titleX":120.5,"titleY":-174,"titleAlign":"center","titleBaseline":"middle","titleAngle":0}},
"y":{"field":"v","type":"quantitative","axis":{"orient":"left","values":[-0.1,0,0.1,0.2,0.3],"labels":false,"domain":false,"tickSize":-8,"title":"T","titleFontSize":7,"titleX":-40,"titleY":88,"titleAlign":"center","titleBaseline":"middle","titleAngle":-90}}}},
{"data":{"values":[{"a":0.01,"v":0}]},"mark":{"type":"point","opacity":0,"size":0},
"encoding":{"x":{"field":"a","type":"quantitative","axis":{"orient":"bottom","values":[0.0002,0.0003,0.0004,0.0005,0.0006,0.0007,0.0008,0.0009,0.002,0.003,0.004,0.005,0.006,0.007,0.008,0.009,0.02,0.03,0.04,0.05,0.06,0.07,0.08,0.09,0.2,0.3,0.4,0.5,0.6,0.7,0.8,0.9],"labels":false,"domain":false,"tickSize":-4,"title":null}},
"y":{"field":"v","type":"quantitative","axis":{"orient":"left","values":[-0.14,-0.13,-0.12,-0.11,-0.09,-0.08,-0.07,-0.06,-0.05,-0.04,-0.03,-0.02,-0.01,0.01,0.02,0.03,0.04,0.05,0.06,0.07,0.08,0.09,0.11,0.12,0.13,0.14,0.15,0.16,0.17,0.18,0.19,0.21,0.22,0.23,0.24,0.25,0.26,0.27,0.28,0.29,0.31,0.32,0.33,0.34],"labels":false,"domain":false,"tickSize":-4,"title":"−1","titleX":-43,"titleY":80,"titleAlign":"center","titleBaseline":"middle","titleAngle":-90}}}},
{"data":{"values":[{"a":0.01,"v":0}]},"mark":{"type":"point","opacity":0,"size":0},
"encoding":{"x":{"field":"a","type":"quantitative","axis":{"orient":"top","values":[0.0001,0.001,0.01,0.1,1],"labels":false,"domain":true,"tickSize":-8,"title":"f","titleFontSize":13,"titleX":107,"titleY":-7,"titleAlign":"center","titleBaseline":"middle","titleAngle":0}},
"y":{"field":"v","type":"quantitative","axis":{"orient":"right","values":[-0.1,0,0.1,0.2,0.3],"labels":false,"domain":true,"tickSize":-8,"title":null}}}},
{"data":{"values":[{"a":0.01,"v":0}]},"mark":{"type":"point","opacity":0,"size":0},
"encoding":{"x":{"field":"a","type":"quantitative","axis":{"orient":"top","values":[0.0002,0.0003,0.0004,0.0005,0.0006,0.0007,0.0008,0.0009,0.002,0.003,0.004,0.005,0.006,0.007,0.008,0.009,0.02,0.03,0.04,0.05,0.06,0.07,0.08,0.09,0.2,0.3,0.4,0.5,0.6,0.7,0.8,0.9],"labels":false,"domain":false,"tickSize":-4,"title":"T","titleFontSize":8,"titleX":111,"titleY":-3,"titleAlign":"center","titleBaseline":"middle","titleAngle":0}},
"y":{"field":"v","type":"quantitative","axis":{"orient":"right","values":[-0.14,-0.13,-0.12,-0.11,-0.09,-0.08,-0.07,-0.06,-0.05,-0.04,-0.03,-0.02,-0.01,0.01,0.02,0.03,0.04,0.05,0.06,0.07,0.08,0.09,0.11,0.12,0.13,0.14,0.15,0.16,0.17,0.18,0.19,0.21,0.22,0.23,0.24,0.25,0.26,0.27,0.28,0.29,0.31,0.32,0.33,0.34],"labels":false,"domain":false,"tickSize":-4,"title":null}}}}
],
"resolve":{"axis":{"x":"independent","y":"independent"}}}
],
"config":{
"view":{"stroke":null},
"axis":{"labelFont":"Liberation Sans","labelFontSize":10,"labelColor":"#444","titleFont":"Liberation Sans","titleFontSize":11,"titleColor":"#444","titleFontWeight":"normal","domainColor":"#9a9a9a","domainWidth":1.5,"tickColor":"#666","tickWidth":1,"grid":false,"labelFlush":false,"labelOverlap":false,"labelBound":false},
"title":{"font":"Liberation Sans","fontSize":13,"fontWeight":"normal","color":"#444","offset":2},
"text":{"font":"Liberation Sans"}
}
}
